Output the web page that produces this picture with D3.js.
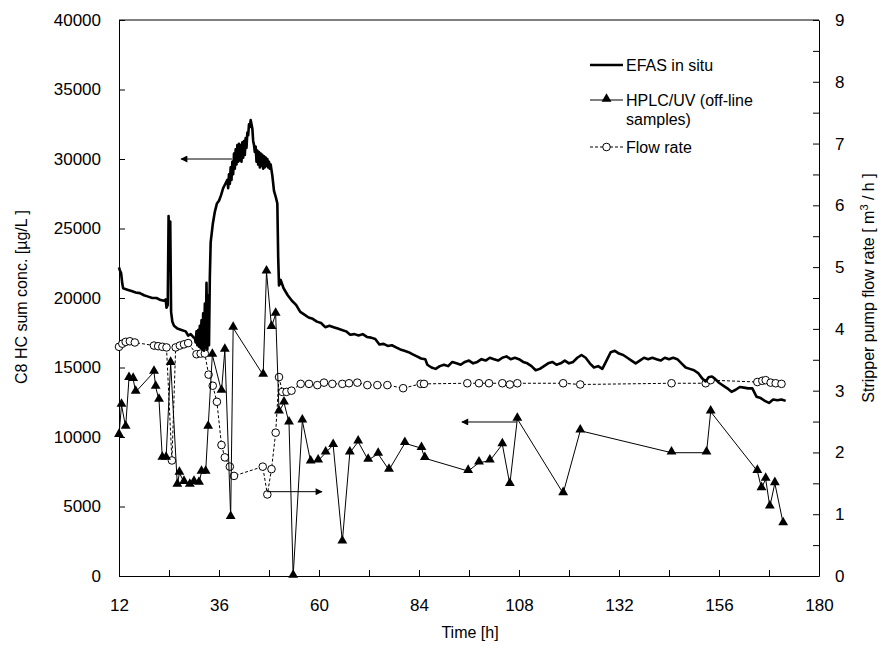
<!DOCTYPE html>
<html>
<head>
<meta charset="utf-8">
<script src="https://cdnjs.cloudflare.com/ajax/libs/d3/7.8.5/d3.min.js"></script>
<style>
	body { margin: 0; background: #fff; }
	text { font-family: "Liberation Sans", Arial, sans-serif; fill: #000; }
	.axis text { font-size: 17px; }
	.axis path, .axis line { stroke: #000; stroke-width: 1; }
</style>
</head>
<body>
<script>
// EFAS in situ signal [time h, conc ug/L]
var efas_t = [12, 12.2, 12.5, 12.8, 13, 14, 15, 16, 17, 18, 19, 20, 21, 22, 22.8, 23.2, 23.4, 23.7, 23.9, 24.1, 24.3, 24.5, 24.8, 25.2, 26, 27, 28, 28.6, 29.2, 29.8,
	30.2, 30.4, 30.6, 30.8, 31, 31.2, 31.4, 31.6, 31.8, 32, 32.2, 32.4, 32.6, 32.8, 33, 33.2, 33.4, 33.6, 33.8, 34, 34.5, 35, 35.5, 36, 36.5, 37, 37.5,
	38, 38.2, 38.4, 38.6, 38.8, 39, 39.2, 39.4, 39.6, 39.8, 40, 40.2, 40.4, 40.6, 40.8, 41, 41.2, 41.4, 41.6, 41.8, 42, 42.2, 42.4, 42.6, 42.8, 43, 43.2, 43.4,
	43.6, 43.8, 44, 44.2, 44.4, 44.6, 44.8, 45, 45.2, 45.4, 45.6, 45.8, 46, 46.2, 46.4, 46.6, 46.8, 47, 47.2, 47.4, 47.6, 47.8, 48, 48.2, 48.4, 48.8, 49.2,
	49.6, 50, 50.2, 50.4,
	50.8, 51.5, 52.5, 53.5, 54.5, 55.5, 56.5, 57.5, 58.5, 59.5, 60.5, 61.5, 62.5, 63.5, 64.5, 65.5, 66.5, 67.5, 68.5, 69.5, 70.5, 71.5, 72.5, 73.5, 74.5, 75.5,
	76.5, 77.5, 78.5, 79.5, 80.5, 81.5, 82.5, 83.5, 84.5, 85.5, 86, 87, 88, 89, 90, 91, 92, 93, 94, 95, 96, 97, 98, 99, 100, 101, 102, 103, 104, 105, 106, 107,
	108, 109, 110, 111, 112, 113, 114, 115, 116, 117, 118, 119, 120, 121, 122, 123, 124, 125, 126, 127, 128, 129, 130, 131, 132, 133, 134, 135, 136, 137, 138,
	139, 140, 141, 142, 143, 144, 145, 146, 147, 148, 149, 150, 151, 152, 152.8, 153.5, 154.3, 155, 156, 157, 158, 159, 160, 161, 162, 163, 164, 165, 166, 167,
	168, 169, 170, 171, 172];
var efas_v = [22200, 22000, 21800, 21000, 20700, 20600, 20500, 20400, 20350, 20200, 20100, 20000, 20000, 19850, 19800, 19900, 19300, 19500, 25900, 22000, 25500, 19000, 18300, 18000, 17800, 17700, 17600, 17300, 17400, 17200,
	17100, 16800, 17600, 16600, 17700, 16500, 18000, 16400, 18400, 16300, 18900, 16200, 19600, 16400, 21100, 16300, 20200, 16600, 21500, 24000, 25300, 26200, 26800, 27000, 27400, 27900, 28200,
	28500, 27900, 28900, 28200, 29400, 28500, 29800, 28900, 30400, 29300, 30700, 29600, 31000, 29800, 31100, 29900, 31000, 29800, 31200, 30100, 31300, 30300, 31500, 30800, 31900, 31700, 32500, 32300,
	32800, 32500, 32200, 31300, 31000, 30500, 30900, 29800, 30600, 29600, 30500, 29400, 30400, 29500, 30300, 29300, 30200, 29400, 30100, 29500, 30000, 29400, 29800, 29300, 29600, 28800, 27700,
	27300, 26800, 23000, 20900,
	21300, 20700, 20200, 19800, 19500, 19000, 18800, 18600, 18500, 18300, 18200, 17900, 18000, 17900, 17800, 17700, 17600, 17350, 17400, 17300, 17400, 17200, 17150, 17050, 16650, 16700,
	16550, 16600, 16450, 16300, 16200, 16100, 15950, 15800, 15650, 15600, 15200, 15000, 14900, 15100, 15200, 15100, 15400, 15300, 15200, 15400, 15500, 15300, 15400, 15600, 15500, 15700, 15600, 15500, 15700, 15800, 15600, 15700,
	15600, 15400, 15300, 15100, 14800, 14900, 15100, 15300, 15400, 15200, 15300, 15500, 15300, 15400, 15700, 15900, 15700, 15300, 15000, 15100, 14900, 15500, 16100, 16200, 16000, 15900, 15700, 15500, 15300, 15500, 15700,
	15600, 15700, 15600, 15500, 15700, 15600, 15700, 15600, 15300, 15000, 14900, 14800, 14600, 14200, 14000, 14300, 14350, 14200, 13900, 13700, 13500, 13250, 13400, 13600, 13550, 13500, 13500, 12900, 12800, 12600,
	12450, 12700, 12650, 12700, 12600];

// HPLC/UV off-line samples
var hplc_t = [12, 12.6, 13.6, 14.4, 15.4, 16, 20.4, 20.8, 21.6, 22.4, 23.3, 24.4, 26, 26.5, 27.6, 29, 30, 31.2, 31.8, 32.8, 33.4, 34.4, 36.6, 37.4, 38.8, 39.4,
	46.6, 47.4, 48.6, 49.6, 50.4, 51.6, 52.8, 53.8, 56, 58, 59.8, 61.6, 63.4, 65.6, 67.4, 69.4, 71.8, 74.2, 76.8, 80.6, 84.6, 85.4, 95.8, 98.4, 101, 104, 105.8,
	107.6, 118.6, 122.7, 144.6, 153, 154, 165.2, 166.2, 167.2, 168.2, 169.4, 171.4];
var hplc_v = [10140, 12300, 10720, 14240, 14170, 13240, 14680, 13600, 12660, 8490, 8490, 15320, 6550, 7410, 6760, 6550, 6760, 6690, 7480, 7480, 10720, 15900, 13310, 16260, 4240, 17840,
	14460, 21900, 17910, 18850, 11820, 12470, 11030, 0, 11170, 8220, 8290, 8870, 9420, 2470, 8870, 9660, 8350, 8780, 7630, 9550, 9190, 8470, 7550, 8150, 8290, 9470, 6600,
	11300, 5950, 10450, 8870, 8870, 11820, 7550, 6310, 6980, 4990, 6670, 3790];

// Stripper pump flow rate [m3/h]
var flow_t = [12, 12.8, 13.6, 14.6, 15.8, 20.4, 21.4, 22.4, 23.4, 24.7, 25.6, 26.6, 27.6, 28.6, 30.6, 31.6, 32.6, 33.5, 34.5, 35.5, 36.6, 37.4, 38.6, 39.6,
	46.5, 47.6, 48.6, 49.6, 50.4, 51.2, 52.2, 53.4, 55.6, 57.6, 59.6, 61.2, 63.2, 65.6, 67.2, 69.2, 71.6, 74, 76.4, 80.2, 84.4, 85.2, 95.6, 98.4, 100.8, 104,
	105.8, 107.6, 118.6, 122.7, 144.6, 152.8, 154, 165.2, 166.4, 167.2, 168.4, 169.6, 171];
var flow_v = [3.71, 3.76, 3.79, 3.8, 3.78, 3.73, 3.72, 3.71, 3.7, 1.87, 3.7, 3.73, 3.75, 3.77, 3.59, 3.6, 3.6, 3.26, 3.08, 2.82, 2.12, 1.92, 1.77, 1.62,
	1.77, 1.32, 1.73, 2.32, 3.22, 2.98, 2.98, 3.0, 3.11, 3.11, 3.09, 3.13, 3.11, 3.11, 3.12, 3.13, 3.09, 3.09, 3.09, 3.04, 3.11, 3.11, 3.12, 3.12, 3.12, 3.12,
	3.1, 3.12, 3.12, 3.1, 3.12, 3.12, 3.17, 3.14, 3.16, 3.17, 3.13, 3.12, 3.11];

// axis ticks
var x_ticks = d3.range(12, 181, 12);
var x_labels = [12, 36, 60, 84, 108, 132, 156, 180];
var yl_ticks = d3.range(0, 40001, 5000);
var yr_ticks = d3.range(0, 9.01, 0.5);

// pointer arrows [t from, value from, t to, value to]; conc. arrows use the left axis, flow arrow the right one
var arrows_conc = [[39.1, 30000, 26.9, 30000], [107.5, 11080, 94.3, 11080]];
var arrows_flow = [[47.5, 1.365, 60.7, 1.365]];

var legend_names = ["EFAS in situ", "HPLC/UV (off-line", "samples)", "Flow rate"];

var width = 882, height = 651;
var plot = {left: 119, right: 819, top: 20, bottom: 576};

var svg = d3.select("body")
	.append("svg")
	.attr("width", width)
	.attr("height", height);

var defs = svg.append("defs");
defs.append("marker")
	.attr("id", "head")
	.attr("viewBox", "0 0 10 10")
	.attr("refX", 9)
	.attr("refY", 5)
	.attr("markerWidth", 9)
	.attr("markerHeight", 7)
	.attr("markerUnits", "userSpaceOnUse")
	.attr("orient", "auto")
	.append("path")
	.attr("d", "M0,0 L10,5 L0,10 z")
	.attr("fill", "#000");

// scales
var xScale = d3.scaleLinear().domain([12, 180]).range([plot.left, plot.right]);
var yLeft = d3.scaleLinear().domain([0, 40000]).range([plot.bottom, plot.top]);
var yRight = d3.scaleLinear().domain([0, 9]).range([plot.bottom, plot.top]);

// frame top line
svg.append("line")
	.attr("x1", plot.left).attr("x2", plot.right)
	.attr("y1", plot.top).attr("y2", plot.top)
	.attr("stroke", "#000");

// axes (ticks pointing inward)
var xAxis = d3.axisBottom(xScale)
	.tickValues(x_ticks)
	.tickSizeInner(-6)
	.tickSizeOuter(0)
	.tickPadding(23)
	.tickFormat(function(d) { return x_labels.indexOf(d) >= 0 ? d : ""; });
svg.append("g")
	.attr("class", "axis")
	.attr("transform", "translate(0," + plot.bottom + ")")
	.call(xAxis);

var yAxisL = d3.axisLeft(yLeft)
	.tickValues(yl_ticks)
	.tickSizeInner(-6)
	.tickSizeOuter(0)
	.tickPadding(18)
	.tickFormat(d3.format("d"));
svg.append("g")
	.attr("class", "axis")
	.attr("transform", "translate(" + plot.left + ",0)")
	.call(yAxisL);

var yAxisR = d3.axisRight(yRight)
	.tickValues(yr_ticks)
	.tickSizeInner(-6)
	.tickSizeOuter(0)
	.tickPadding(16)
	.tickFormat(function(d) { return d % 1 === 0 ? d : ""; });
svg.append("g")
	.attr("class", "axis")
	.attr("transform", "translate(" + plot.right + ",0)")
	.call(yAxisR);

svg.selectAll(".axis .domain").attr("stroke", "#000");

// axis titles
svg.append("text")
	.attr("transform", "translate(27,297) rotate(-90)")
	.attr("text-anchor", "middle")
	.style("font-size", "16px")
	.text("C8 HC sum conc. [\u00b5g/L ]");

var rt = svg.append("text")
	.attr("transform", "translate(874,288) rotate(-90)")
	.attr("text-anchor", "middle")
	.style("font-size", "16px");
rt.append("tspan").text("Stripper pump flow rate [ m");
rt.append("tspan").attr("dy", -6).style("font-size", "11px").text("3");
rt.append("tspan").attr("dy", 6).text(" / h ]");

svg.append("text")
	.attr("x", 470)
	.attr("y", 638)
	.attr("text-anchor", "middle")
	.style("font-size", "16px")
	.text("Time [h]");

// build point arrays
var efas = efas_t.map(function(t, i) { return [t, efas_v[i]]; });
var hplc = hplc_t.map(function(t, i) { return [t, hplc_v[i]]; });
var flow = flow_t.map(function(t, i) { return [t, flow_v[i]]; });

var lineL = d3.line()
	.x(function(d) { return xScale(d[0]); })
	.y(function(d) { return yLeft(d[1]); });
var lineR = d3.line()
	.x(function(d) { return xScale(d[0]); })
	.y(function(d) { return yRight(d[1]); });

var tri = d3.symbol().type(d3.symbolTriangle).size(42);

// flow rate dashed line + open circles
svg.append("path")
	.datum(flow)
	.attr("d", lineR)
	.attr("fill", "none")
	.attr("stroke", "#000")
	.attr("stroke-width", 1)
	.attr("stroke-dasharray", "3,2");

svg.selectAll("circle.flow")
	.data(flow)
	.enter()
	.append("circle")
	.attr("class", "flow")
	.attr("cx", function(d) { return xScale(d[0]); })
	.attr("cy", function(d) { return yRight(d[1]); })
	.attr("r", 3.8)
	.attr("fill", "#fff")
	.attr("stroke", "#000")
	.attr("stroke-width", 1);

// HPLC line + triangles
svg.append("path")
	.datum(hplc)
	.attr("d", lineL)
	.attr("fill", "none")
	.attr("stroke", "#000")
	.attr("stroke-width", 1);

svg.selectAll("path.tri")
	.data(hplc)
	.enter()
	.append("path")
	.attr("class", "tri")
	.attr("d", tri)
	.attr("transform", function(d) { return "translate(" + xScale(d[0]) + "," + (yLeft(d[1]) - 1) + ")"; })
	.attr("fill", "#000");

// EFAS in situ thick line
svg.append("path")
	.datum(efas)
	.attr("d", lineL)
	.attr("fill", "none")
	.attr("stroke", "#000")
	.attr("stroke-width", 2.6)
	.attr("stroke-linejoin", "round");

// arrows showing which axis each curve belongs to
arrows_conc.forEach(function(a) {
	svg.append("line")
		.attr("x1", xScale(a[0])).attr("y1", yLeft(a[1]))
		.attr("x2", xScale(a[2])).attr("y2", yLeft(a[3]))
		.attr("stroke", "#000")
		.attr("marker-end", "url(#head)");
});
arrows_flow.forEach(function(a) {
	svg.append("line")
		.attr("x1", xScale(a[0])).attr("y1", yRight(a[1]))
		.attr("x2", xScale(a[2])).attr("y2", yRight(a[3]))
		.attr("stroke", "#000")
		.attr("marker-end", "url(#head)");
});

// legend
var lg = svg.append("g").attr("transform", "translate(590,0)");
lg.append("line").attr("x1", 0).attr("x2", 33).attr("y1", 65).attr("y2", 65)
	.attr("stroke", "#000").attr("stroke-width", 2.6);
lg.append("line").attr("x1", 0).attr("x2", 33).attr("y1", 100).attr("y2", 100)
	.attr("stroke", "#000");
lg.append("path").attr("d", tri).attr("transform", "translate(16.5,99)");
lg.append("line").attr("x1", 0).attr("x2", 33).attr("y1", 147).attr("y2", 147)
	.attr("stroke", "#000").attr("stroke-dasharray", "3,2");
lg.append("circle").attr("cx", 16.5).attr("cy", 147).attr("r", 3.8)
	.attr("fill", "#fff").attr("stroke", "#000");

var legend_y = [65, 100, 119, 147];
lg.selectAll("text.lg")
	.data(legend_names)
	.enter()
	.append("text")
	.attr("class", "lg")
	.attr("x", 36)
	.attr("y", function(d, i) { return legend_y[i]; })
	.attr("dy", "0.36em")
	.style("font-size", "16px")
	.text(function(d) { return d; });
</script>
</body>
</html>
